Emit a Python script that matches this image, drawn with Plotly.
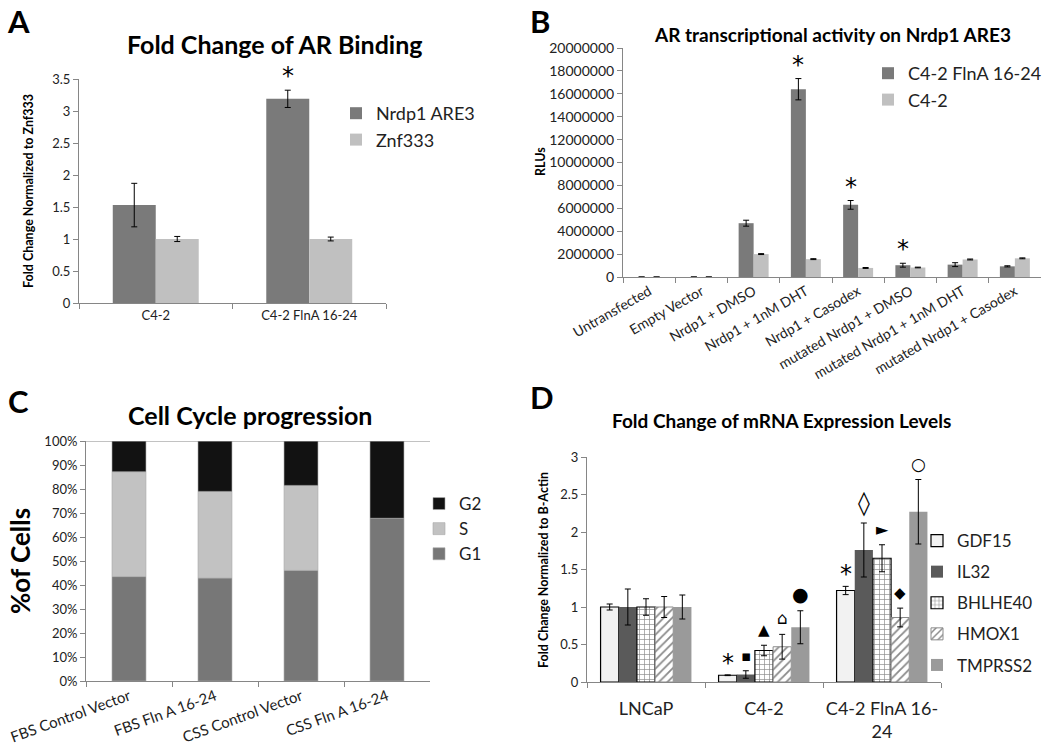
import plotly.graph_objects as go

# ---------------- Panel A data ----------------
a_categories = ["C4-2", "C4-2 FlnA 16-24"]
a_nrdp1 = [1.53, 3.19]
a_nrdp1_err = [0.34, 0.135]
a_znf333 = [1.0, 1.0]
a_znf333_err = [0.04, 0.03]
a_sig = ["", "*"]

# ---------------- Panel B data ----------------
b_categories = ["Untransfected", "Empty Vector", "Nrdp1 + DMSO", "Nrdp1 + 1nM DHT",
                "Nrdp1 + Casodex", "mutated Nrdp1 + DMSO", "mutated Nrdp1 + 1nM DHT",
                "mutated Nrdp1 + Casodex"]
b_flna = [0, 0, 4700000, 16400000, 6300000, 1030000, 1080000, 930000]
b_flna_err = [None, None, 260000, 930000, 380000, 170000, 170000, 50000]
b_c42 = [0, 0, 2000000, 1560000, 790000, 830000, 1530000, 1630000]
b_c42_err = [None, None, 40000, 40000, 40000, 30000, 40000, 40000]
b_sig = ["", "", "", "*", "*", "*", "", ""]

# ---------------- Panel C data ----------------
c_categories = ["FBS Control Vector", "FBS Fln A 16-24", "CSS Control Vector", "CSS Fln A 16-24"]
c_g1 = [43.5, 42.9, 46.1, 67.8]
c_s = [43.7, 36.1, 35.4, 0.0]
c_g2 = [12.8, 21.0, 18.5, 32.2]

# ---------------- Panel D data ----------------
d_categories = ["LNCaP", "C4-2", "C4-2 FlnA 16-24"]
d_ticktext = ["LNCaP", "C4-2", "C4-2 FlnA 16-<br>24"]
d_genes = ["GDF15", "IL32", "BHLHE40", "HMOX1", "TMPRSS2"]
d_values = {
    "GDF15": [1.0, 0.09, 1.22],
    "IL32": [1.0, 0.10, 1.76],
    "BHLHE40": [1.0, 0.42, 1.65],
    "HMOX1": [1.0, 0.47, 0.86],
    "TMPRSS2": [1.0, 0.73, 2.27],
}
d_errors = {
    "GDF15": [0.04, 0.005, 0.055],
    "IL32": [0.24, 0.05, 0.36],
    "BHLHE40": [0.11, 0.07, 0.18],
    "HMOX1": [0.14, 0.165, 0.125],
    "TMPRSS2": [0.16, 0.22, 0.43],
}
d_symbols = {
    "GDF15": ["", "*", "*"],
    "IL32": ["", "\u25AA", "\u25CA"],
    "BHLHE40": ["", "\u25B2", "\u25BA"],
    "HMOX1": ["", "\u2302", "\u25C6"],
    "TMPRSS2": ["", "\u25CF", "\u25CB"],
}
d_symbol_sizes = {"*": 24, "\u25AA": 15, "\u25CA": 24, "\u25B2": 15, "\u25BA": 16,
                  "\u2302": 17, "\u25C6": 15, "\u25CF": 19, "\u25CB": 17}

FONT = "Lato, Carlito, Calibri, sans-serif"
SYMFONT = "DejaVu Sans"
AXC = "#868686"
DARK = "#7a7a7a"
LIGHT = "#c0c0c0"
W, H = 1050, 756


def px(x):
    return x / W


def py(y):
    return 1 - y / H


fig = go.Figure()
annotations = []


def err(vals):
    return dict(type="data", array=vals, visible=True, color="black", thickness=1, width=3)


# ---------- Panel A ----------
wA = 0.28
fig.add_trace(go.Bar(x=a_categories, y=a_nrdp1, name="Nrdp1 ARE3", width=wA, offset=-wA,
                     marker=dict(color=DARK, line=dict(width=0)), error_y=err(a_nrdp1_err),
                     xaxis="x", yaxis="y", legend="legend"))
fig.add_trace(go.Bar(x=a_categories, y=a_znf333, name="Znf333", width=wA, offset=0,
                     marker=dict(color=LIGHT, line=dict(width=0)), error_y=err(a_znf333_err),
                     xaxis="x", yaxis="y", legend="legend"))
for i, s in enumerate(a_sig):
    if s:
        annotations.append(dict(x=i - wA / 2, y=a_nrdp1[i] + a_nrdp1_err[i], xref="x", yref="y",
                                text=s, showarrow=False, yanchor="bottom", yshift=-2,
                                font=dict(size=24, family=SYMFONT, color="black")))

# ---------- Panel B ----------
wB = 0.287
fig.add_trace(go.Bar(x=b_categories, y=b_flna, name="C4-2 FlnA 16-24", width=wB, offset=-wB,
                     marker=dict(color=DARK, line=dict(width=0)), error_y=err(b_flna_err),
                     xaxis="x2", yaxis="y2", legend="legend2"))
fig.add_trace(go.Bar(x=b_categories, y=b_c42, name="C4-2", width=wB, offset=0,
                     marker=dict(color=LIGHT, line=dict(width=0)), error_y=err(b_c42_err),
                     xaxis="x2", yaxis="y2", legend="legend2"))
for i, s in enumerate(b_sig):
    if s:
        annotations.append(dict(x=i - wB / 2, y=b_flna[i] + b_flna_err[i], xref="x2", yref="y2",
                                text=s, showarrow=False, yanchor="bottom", yshift=-2,
                                font=dict(size=24, family=SYMFONT, color="black")))

# ---------- Panel C ----------
wC = 0.395
c_base_s = list(c_g1)
c_base_g2 = [a + b for a, b in zip(c_g1, c_s)]
fig.add_trace(go.Bar(x=c_categories, y=c_g1, name="G1", width=wC, offset=-wC / 2,
                     marker=dict(color="#777777", line=dict(width=0.6, color="#aaaaaa")),
                     xaxis="x3", yaxis="y3", legend="legend3"))
fig.add_trace(go.Bar(x=c_categories, y=c_s, base=c_base_s, name="S", width=wC, offset=-wC / 2,
                     marker=dict(color="#c2c2c2", line=dict(width=0.6, color="#aaaaaa")),
                     xaxis="x3", yaxis="y3", legend="legend3"))
fig.add_trace(go.Bar(x=c_categories, y=c_g2, base=c_base_g2, name="G2", width=wC, offset=-wC / 2,
                     marker=dict(color="#121212", line=dict(width=0.6, color="#aaaaaa")),
                     xaxis="x3", yaxis="y3", legend="legend3"))

# ---------- Panel D ----------
wD = 0.154
d_styles = {
    "GDF15": dict(color="#f2f2f2", line=dict(width=1.2, color="black")),
    "IL32": dict(color="#5a5a5a", line=dict(width=0)),
    "BHLHE40": dict(color="white", line=dict(width=1.2, color="black"),
                    pattern=dict(shape="+", fgcolor="#8a8a8a", bgcolor="white", size=5, solidity=0.25)),
    "HMOX1": dict(color="white", line=dict(width=1, color="#8a8a8a"),
                  pattern=dict(shape="/", fgcolor="#8a8a8a", bgcolor="white", size=6, solidity=0.3)),
    "TMPRSS2": dict(color="#9a9a9a", line=dict(width=0)),
}
for k, g in enumerate(d_genes):
    off = -2.5 * wD + k * wD
    fig.add_trace(go.Bar(x=d_categories, y=d_values[g], name=g, width=wD, offset=off,
                         marker=d_styles[g], error_y=err(d_errors[g]),
                         xaxis="x4", yaxis="y4", legend="legend4", legendgroup=g))
    for i, s in enumerate(d_symbols[g]):
        if s:
            star = s == "*"
            annotations.append(dict(x=i + off + wD / 2, y=d_values[g][i] + d_errors[g][i],
                                    xref="x4", yref="y4", text=s, showarrow=False,
                                    yanchor="bottom", yshift=4 if not star else -4,
                                    font=dict(size=d_symbol_sizes[s], family=SYMFONT,
                                              color="black")))

# ---------- Titles, letters, axis titles ----------
def label(text, x, y, size, bold=True, angle=0, xanchor="center", yanchor="middle"):
    annotations.append(dict(text=f"<b>{text}</b>" if bold else text, x=px(x), y=py(y),
                            xref="paper", yref="paper", showarrow=False, textangle=angle,
                            xanchor=xanchor, yanchor=yanchor,
                            font=dict(size=size, family=FONT, color="black")))


label("A", 5, 0, 31, xanchor="left", yanchor="top")
label("B", 528, 0, 31, xanchor="left", yanchor="top")
label("C", 6, 380, 31, xanchor="left", yanchor="top")
label("D", 528, 376, 31, xanchor="left", yanchor="top")

label("Fold Change of AR Binding", 275, 44, 25)
label("AR transcriptional activity on Nrdp1 ARE3", 832, 35, 19)
label("Cell Cycle progression", 250, 415, 25)
label("Fold Change of mRNA Expression Levels", 781, 420, 19)

label("Fold Change Normalized to Znf333", 28, 191, 12.5, angle=-90)
label("RLUs", 540, 162, 12.5, angle=-90)
label("%of Cells", 20, 561, 26, angle=-90)
label("Fold Change Normalized to B-Actin", 543, 570, 12.5, angle=-90)

# 100% top line in panel C
shapes = [dict(type="line", xref="x3 domain", yref="y3", x0=0, x1=1, y0=100, y1=100,
               line=dict(color=AXC, width=1))]


def yax(domain, anchor, rng, dtick, size, **kw):
    d = dict(domain=domain, anchor=anchor, range=rng, dtick=dtick, showgrid=False, zeroline=False,
             showline=True, linecolor=AXC, linewidth=1, ticks="outside", ticklen=5, tickcolor=AXC,
             tickfont=dict(size=size, family=FONT, color="#222"), fixedrange=True,
             automargin=False)
    d.update(kw)
    return d


def xax(domain, anchor, size, **kw):
    d = dict(domain=domain, anchor=anchor, showgrid=False, zeroline=False, showline=True,
             linecolor=AXC, linewidth=1, ticks="outside", ticklen=5, tickcolor=AXC,
             tickson="boundaries", tickfont=dict(size=size, family=FONT, color="#222"),
             type="category", fixedrange=True, automargin=False)
    d.update(kw)
    return d


def legend(x, y, size, gap=0, order="normal"):
    return dict(x=px(x), y=py(y), xanchor="left", yanchor="top", bgcolor="rgba(0,0,0,0)",
                font=dict(size=size, family=FONT, color="#222"), tracegroupgap=gap,
                traceorder=order, itemclick=False, itemdoubleclick=False)


fig.update_layout(
    template="none",
    width=W, height=H, margin=dict(l=0, r=0, t=0, b=0, pad=0, autoexpand=False),
    paper_bgcolor="white", plot_bgcolor="white", barmode="overlay", showlegend=True,
    font=dict(family=FONT),
    xaxis=xax([px(79), px(386)], "y", 13, tickangle=0),
    yaxis=yax([py(303), py(79)], "x", [0, 3.5], 0.5, 13),
    xaxis2=xax([px(623), px(1041)], "y2", 14, tickangle=-30),
    yaxis2=yax([py(277), py(48)], "x2", [0, 20000000], 2000000, 14, tickformat="d"),
    xaxis3=xax([px(86), px(430)], "y3", 15, tickangle=-20),
    yaxis3=yax([py(681), py(441)], "x3", [0, 100], 10, 13, ticksuffix="%"),
    xaxis4=xax([px(587), px(941)], "y4", 18, tickangle=0, tickvals=d_categories,
               ticktext=d_ticktext, ticklabelstandoff=10),
    yaxis4=yax([py(682), py(457)], "x4", [0, 3], 0.5, 13),
    legend=legend(336, 95, 18),
    legend2=legend(868, 55, 18),
    legend3=legend(419, 486, 17, order="reversed"),
    legend4=legend(917, 523, 17, gap=6, order="grouped"),
    annotations=annotations,
    shapes=shapes,
)

fig.write_html("out.html", config={"displayModeBar": False},
               post_script="document.body.style.margin='0px';document.body.style.padding='0px';")
